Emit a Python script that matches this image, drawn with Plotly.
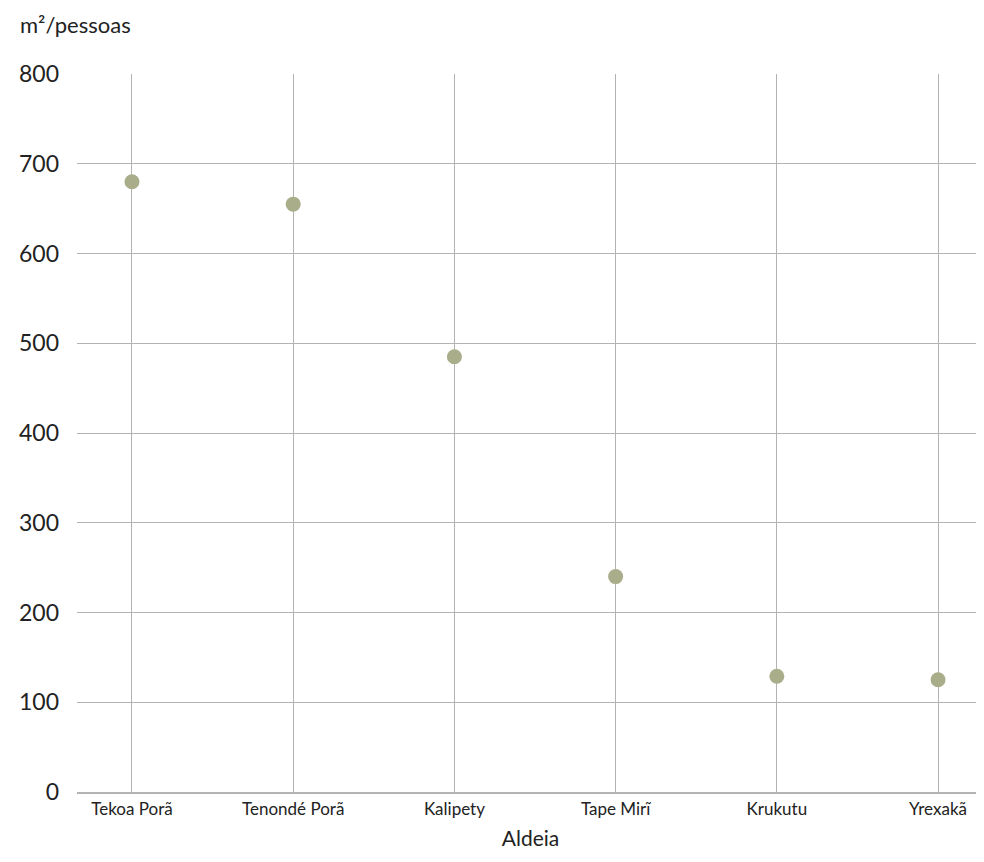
import plotly.graph_objects as go

aldeias = ["Tekoa Porã", "Tenondé Porã", "Kalipety", "Tape Mirĩ", "Krukutu", "Yrexakã"]
m2_por_pessoa = [680, 655, 485, 240, 129, 125]
y_ticks = [0, 100, 200, 300, 400, 500, 600, 700, 800]

FONT = "Lato, 'Noto Sans', sans-serif"

W, H = 976, 846
L, R, T, B = 69, 0, 66, 62
PW, PH = W - L - R, H - T - B

fig = go.Figure(go.Scatter(
    x=aldeias, y=m2_por_pessoa, mode="markers",
    marker=dict(size=15, color="#a9ad8a", line=dict(width=0)),
    hoverinfo="x+y",
))

fig.update_layout(
    width=W, height=H,
    margin=dict(l=L, r=R, t=T, b=B),
    paper_bgcolor="white", plot_bgcolor="white",
    font=dict(family=FONT, color="#222"),
    showlegend=False,
    annotations=[dict(
        text="m²/pessoas", xref="paper", yref="paper",
        x=(10 - L) / PW, y=1 + 49 / PH,
        xanchor="left", yanchor="middle", showarrow=False,
        font=dict(size=22, family=FONT, color="#222"),
    )],
)

fig.update_xaxes(
    type="category", range=[-0.341, 5.285],
    showgrid=True, gridcolor="#b3b3b3", gridwidth=1,
    showline=True, linecolor="#b3b3b3", linewidth=2,
    ticks="", ticklabelstandoff=1,
    tickfont=dict(size=17, family=FONT, color="#222"),
    title=dict(text="Aldeia", font=dict(size=21, family=FONT, color="#222"), standoff=13),
)
fig.update_yaxes(
    range=[0, 800], tickvals=y_ticks,
    showgrid=True, gridcolor="#b3b3b3", gridwidth=1,
    zeroline=False, showline=False,
    ticks="", ticklabelstandoff=17,
    tickfont=dict(size=23, family=FONT, color="#222"),
)

fig.write_html("out.html")
